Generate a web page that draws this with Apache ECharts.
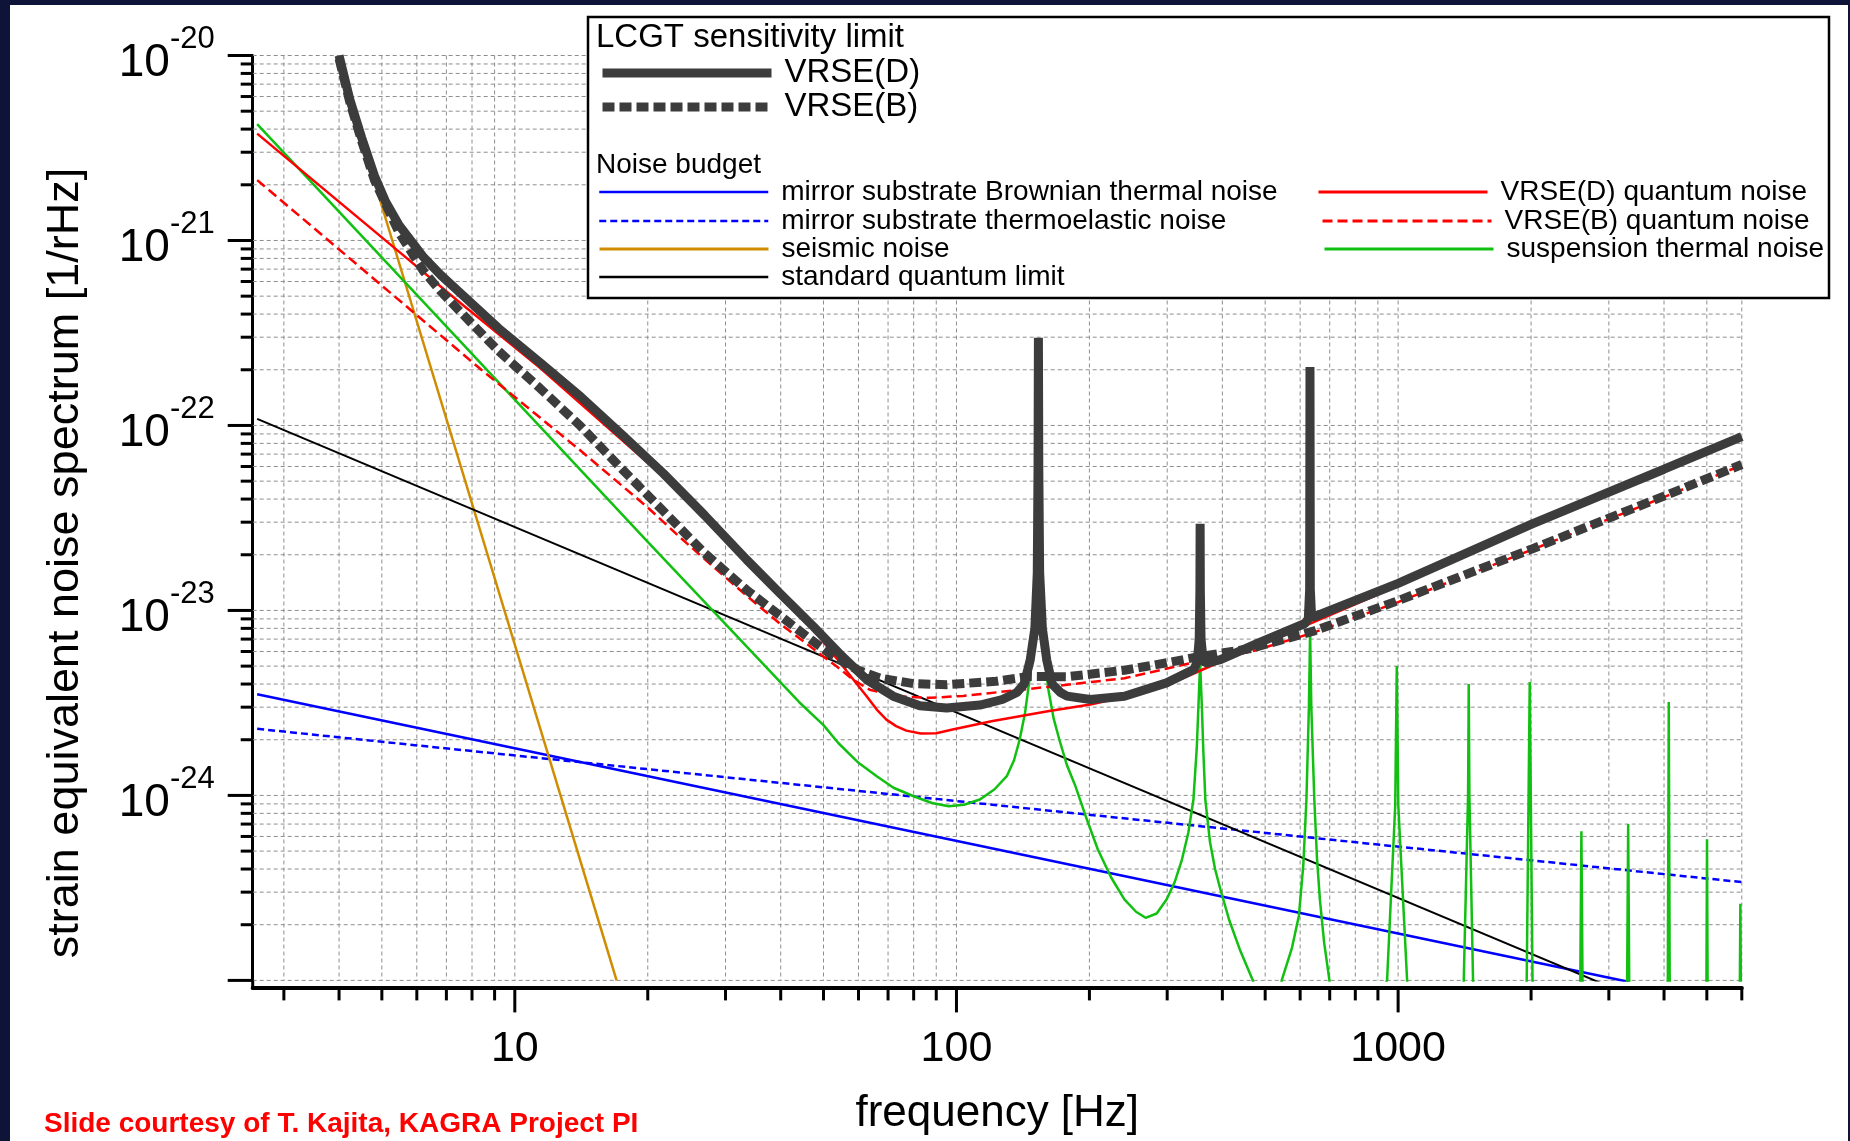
<!DOCTYPE html>
<html>
<head>
<meta charset="utf-8">
<title>LCGT sensitivity limit</title>
<script src="https://cdn.jsdelivr.net/npm/echarts@6.0.0/dist/echarts.min.js"></script>
<style>
  html, body { margin: 0; padding: 0; background: #0d1438; }
  #frame { position: absolute; left: 10px; top: 5px; width: 1838px; height: 1136px; background: #fff; }
  #chart { position: absolute; left: 0; top: 0; width: 1850px; height: 1141px; }
</style>
</head>
<body>
<div id="frame"></div>
<div id="chart"></div>
<script>
const FONT = '"Liberation Sans", Arial, Helvetica, sans-serif'

// axis ranges
const X_MIN = 2.55
const X_MAX = 6000
const Y_MIN = 1e-25
const Y_MAX = 1e-20

// tick / grid positions
const xMajorTicks = [10, 100, 1000]
const xMinorTicks = [3, 4, 5, 6, 7, 8, 9, 20, 30, 40, 50, 60, 70, 80, 90,
  200, 300, 400, 500, 600, 700, 800, 900, 2000, 3000, 4000, 5000, 6000]
const yDecades = [-25, -24, -23, -22, -21, -20]
const yMantissas = [2, 3, 4, 5, 6, 7, 8, 9]

// LCGT sensitivity limit [frequency Hz, strain 1/rHz]
const vrseD = [
  [4.0, 1.0e-20], [4.23, 5.8e-21], [4.5, 3.6e-21], [4.81, 2.24e-21], [5.1, 1.62e-21],
  [5.47, 1.21e-21], [6.22, 8.1e-22], [6.8, 6.5e-22], [7.4, 5.4e-22], [9.18, 3.36e-22],
  [11.4, 2.19e-22], [14.1, 1.43e-22], [17.5, 8.9e-23], [21.7, 5.5e-23], [26.9, 3.27e-23],
  [33.5, 1.88e-23], [39.8, 1.24e-23], [47.4, 8.2e-24], [54.5, 5.8e-24], [62.6, 4.23e-24],
  [71.9, 3.44e-24], [82.6, 3.05e-24], [95, 2.97e-24], [113, 3.08e-24], [127, 3.3e-24],
  [137, 3.6e-24], [142.3, 4.0e-24], [146.9, 5.4e-24], [150.5, 8.0e-24], [152.4, 1.6e-23],
  [153.0, 6.0e-23], [153.3, 2.98e-22], [153.6, 6.0e-23], [154.3, 1.6e-23], [156.5, 8.0e-24],
  [160.1, 5.4e-24], [164.7, 4.0e-24], [172, 3.6e-24], [178, 3.44e-24], [201, 3.3e-24],
  [240, 3.44e-24], [299, 4.06e-24], [345, 4.8e-24], [351, 5.3e-24], [354.5, 7.0e-24],
  [355.8, 1.3e-23], [356.2, 2.94e-23], [356.6, 1.3e-23], [357.9, 7.0e-24], [362, 5.3e-24],
  [370, 5.2e-24], [396, 5.42e-24], [483, 6.67e-24], [615, 8.5e-24], [626, 9.0e-24],
  [630.5, 1.3e-23], [631.6, 2.07e-22], [632.7, 1.3e-23], [637, 9.2e-24], [650, 9.3e-24],
  [1000, 1.4e-23], [2000, 2.92e-23], [4000, 5.8e-23], [6000, 8.7e-23],
]
const vrseB = [
  [4.0, 9.6e-21], [4.23, 5.6e-21], [4.5, 3.45e-21], [4.81, 2.12e-21], [5.47, 1.1e-21],
  [6.22, 6.8e-22], [6.8, 5.3e-22], [7.4, 4.3e-22], [9.18, 2.53e-22], [11.4, 1.59e-22],
  [14.1, 9.9e-23], [17.5, 5.8e-23], [21.7, 3.44e-23], [26.9, 2.04e-23], [33.5, 1.29e-23],
  [39.8, 9.4e-24], [47.4, 6.8e-24], [52.6, 5.65e-24], [60, 4.75e-24], [67, 4.31e-24],
  [80, 4.02e-24], [95, 3.97e-24], [123, 4.14e-24], [146, 4.4e-24], [178, 4.38e-24],
  [240, 4.75e-24], [300, 5.22e-24], [358, 5.65e-24], [460, 6.2e-24], [640, 7.7e-24],
  [1000, 1.13e-23], [2000, 2.14e-23], [4000, 4.15e-23], [6000, 6.15e-23],
]

// noise budget
const brownian = [[2.61, 3.52e-24], [3340, 9.8e-26]]
const thermoelastic = [[2.61, 2.29e-24], [6000, 3.4e-25]]
const seismic = [[4.9, 1.8e-21], [17, 1.0e-25]]
const sql = [[2.61, 1.086e-22], [2900, 9.6e-26]]
const quantumD = [
  [2.61, 3.78e-21], [5.5, 8.6e-22], [7.4, 4.75e-22], [11.4, 2.05e-22], [21.7, 5.3e-23],
  [33.5, 1.8e-23], [39.8, 1.19e-23], [47.4, 7.9e-24], [53.9, 5.4e-24], [56.4, 4.7e-24],
  [59.5, 4.0e-24], [62.6, 3.44e-24], [66, 2.91e-24], [69.4, 2.57e-24], [73, 2.37e-24],
  [77, 2.24e-24], [83, 2.16e-24], [90, 2.17e-24], [98, 2.27e-24], [120, 2.52e-24],
  [161, 2.85e-24], [201, 3.1e-24], [236, 3.37e-24], [300, 3.95e-24], [358, 4.75e-24],
  [483, 6.5e-24], [640, 8.6e-24], [1000, 1.36e-23], [2000, 2.88e-23], [4000, 5.75e-23],
  [6000, 8.6e-23],
]
const quantumB = [
  [2.61, 2.12e-21], [8.4, 2.0e-22], [14.1, 7.3e-23], [20, 3.6e-23], [23.6, 2.5e-23],
  [28.1, 1.73e-23], [33.5, 1.2e-23], [39.8, 8.5e-24], [47.4, 6.2e-24], [53.5, 4.99e-24],
  [58.3, 4.23e-24], [63.6, 3.73e-24], [73, 3.44e-24], [87, 3.37e-24], [103.5, 3.45e-24],
  [125, 3.62e-24], [161, 3.86e-24], [240, 4.3e-24], [300, 4.85e-24], [358, 5.35e-24],
  [460, 5.95e-24], [640, 7.55e-24], [1000, 1.11e-23], [2000, 2.12e-23], [4000, 4.1e-23],
  [6000, 6.1e-23],
]
// suspension thermal noise: pendulum slope, low resonances and violin modes
const suspension = [
  [2.61, 4.26e-21], [20, 2.35e-23], [44, 3.2e-24], [50, 2.4e-24], [54, 1.92e-24],
  [60, 1.5e-24], [66, 1.27e-24], [72, 1.1e-24], [80, 9.9e-25], [88, 9.1e-25],
  [96, 8.75e-25], [104, 8.9e-25], [113, 9.5e-25], [122, 1.08e-24], [130, 1.27e-24],
  [135, 1.55e-24], [139, 2.0e-24], [143, 2.8e-24], [146, 4.06e-24], [150.5, 7.0e-24],
  [153.3, 1.0e-22], [156.5, 7.0e-24], [161.5, 3.73e-24], [166, 2.6e-24], [171, 2.0e-24],
  [178, 1.45e-24], [186, 1.12e-24], [197, 7.5e-25], [209, 5.1e-25], [224, 3.6e-25],
  [240, 2.74e-25], [255, 2.35e-25], [268, 2.18e-25], [284, 2.3e-25], [299, 2.74e-25],
  [312, 3.4e-25], [324, 4.5e-25], [335, 6.3e-25], [344, 9.5e-25], [350, 1.8e-24],
  [353, 3.0e-24], [356.2, 5.2e-24], [359.5, 3.0e-24], [362, 1.8e-24], [366, 9.5e-25],
  [375, 5.6e-25], [385, 4.0e-25], [396, 3.1e-25], [415, 2.1e-25], [438, 1.47e-25],
  [469, 1.0e-25], [490, 3e-26], [520, 3e-26], [545, 1.0e-25], [575, 1.5e-25],
  [596, 2.23e-25], [610, 4.2e-25], [620, 9.5e-25], [628, 3.0e-24], [632, 7.7e-24],
  [636, 3.0e-24], [646, 9.5e-25], [655, 4.6e-25], [665, 2.74e-25], [680, 1.6e-25],
  [699, 1.0e-25], [730, 3e-26], [944, 1.0e-25], [985, 8.8e-25], [993, 5.0e-24],
  [1001, 8.8e-25], [1048, 1.0e-25], [1200, 1e-27], [1408, 1.0e-25], [1440, 1.0e-24],
  [1445, 4.0e-24], [1450, 1.0e-24], [1478, 1.0e-25], [1700, 1e-27], [1955, 1.0e-25],
  [1986, 4.1e-24], [2015, 1.0e-25], [2300, 1e-27], [2585, 1.0e-25], [2600, 6.4e-25],
  [2615, 1.0e-25], [2950, 1e-27], [3300, 1.0e-25], [3318, 7.0e-25], [3336, 1.0e-25],
  [3700, 1e-27], [4080, 1.0e-25], [4100, 3.2e-24], [4120, 1.0e-25], [4500, 1e-27],
  [4990, 1.0e-25], [5005, 5.8e-25], [5020, 1.0e-25], [5400, 1e-27], [5940, 1.0e-25],
  [5955, 2.6e-25], [5970, 1.0e-25], [6100, 1e-27],
]

const AXIS_OFFSET = 7
const GRID_STYLE = { stroke: '#8e8e8e', lineWidth: 1, lineDash: [4, 3] }
const TICK_STYLE = { stroke: '#000', lineWidth: 3 }

let myChart = null

function renderXGrid(params, api) {
  const v = api.value(0)
  const top = api.coord([v, Y_MAX])
  const bot = api.coord([v, Y_MIN])
  const len = api.value(2) ? 25 : 13
  const y0 = bot[1] + AXIS_OFFSET
  return {
    type: 'group',
    children: [
      { type: 'line', shape: { x1: top[0], y1: top[1], x2: bot[0], y2: bot[1] }, style: GRID_STYLE },
      { type: 'line', shape: { x1: bot[0], y1: y0, x2: bot[0], y2: y0 + len }, style: TICK_STYLE },
    ],
  }
}

function renderYGrid(params, api) {
  const v = api.value(1)
  const left = api.coord([X_MIN, v])
  const right = api.coord([X_MAX, v])
  const len = api.value(2) ? 25 : 12
  const children = [
    { type: 'line', shape: { x1: left[0], y1: left[1], x2: right[0], y2: right[1] }, style: GRID_STYLE },
    { type: 'line', shape: { x1: left[0] - len, y1: left[1], x2: left[0], y2: left[1] }, style: TICK_STYLE },
  ]
  // carry the y axis line down to the offset x axis
  const cs = params.coordSys
  if (Math.abs(left[1] - (cs.y + cs.height)) < 1) {
    children.push({
      type: 'line',
      shape: { x1: left[0], y1: left[1], x2: left[0], y2: left[1] + AXIS_OFFSET + 2 },
      style: TICK_STYLE,
    })
  }
  return { type: 'group', children: children }
}

function curve(name, data, color, width, type, z) {
  return {
    name: name,
    type: 'line',
    data: data,
    z: z,
    symbol: 'none',
    showSymbol: false,
    silent: true,
    clip: true,
    animation: false,
    emphasis: { disabled: true },
    itemStyle: { color: color },
    lineStyle: { color: color, width: width, type: type, cap: 'butt', join: 'bevel' },
  }
}

function legendItem(name, left, cy, fontSize, lineWidth) {
  return {
    data: [name],
    left: left,
    top: cy - fontSize / 2,
    padding: 0,
    itemWidth: 169,
    itemHeight: fontSize,
    selectedMode: false,
    z: 20,
    itemStyle: { opacity: 0 },
    lineStyle: { width: lineWidth },
    textStyle: {
      fontFamily: FONT,
      fontSize: fontSize,
      lineHeight: fontSize,
      color: '#000',
      padding: [0, 0, 0, 8],
    },
  }
}

function initChart() {
  myChart = echarts.init(document.getElementById('chart'), null, { width: 1850, height: 1141 })

  const xGridData = xMinorTicks.map((v) => [v, Y_MIN, 0])
    .concat(xMajorTicks.map((v) => [v, Y_MIN, 1]))
  const yGridData = []
  yDecades.forEach((d) => {
    yGridData.push([X_MIN, Math.pow(10, d), 1])
    if (d < -20) {
      yMantissas.forEach((m) => yGridData.push([X_MIN, m * Math.pow(10, d), 0]))
    }
  })

  let option = {
    animation: false,
    backgroundColor: 'transparent',
    textStyle: { fontFamily: FONT },
    grid: {
      left: 252.7,
      right: 108.2,
      top: 55.5,
      bottom: 160.6,
      containLabel: false,
      outerBoundsMode: 'none',
    },
    xAxis: {
      type: 'log',
      logBase: 10,
      min: X_MIN,
      max: X_MAX,
      offset: AXIS_OFFSET,
      name: 'frequency [Hz]',
      nameLocation: 'middle',
      nameGap: 104,
      nameTextStyle: { fontFamily: FONT, fontSize: 44, color: '#000' },
      axisLine: { show: true, onZero: false, lineStyle: { color: '#000', width: 4 } },
      axisTick: { show: false },
      splitLine: { show: false },
      minorTick: { show: false },
      minorSplitLine: { show: false },
      axisLabel: {
        margin: 40,
        fontFamily: FONT,
        fontSize: 43,
        color: '#000',
        showMinLabel: false,
        showMaxLabel: false,
        formatter: (v) => String(Math.round(v)),
      },
    },
    yAxis: {
      type: 'log',
      logBase: 10,
      min: Y_MIN,
      max: Y_MAX,
      axisLine: { show: true, onZero: false, lineStyle: { color: '#000', width: 3 } },
      axisTick: { show: false },
      splitLine: { show: false },
      minorTick: { show: false },
      minorSplitLine: { show: false },
      axisLabel: {
        margin: 38,
        color: '#000',
        formatter: (v) => '{b|10}{s|' + Math.round(Math.log10(v)) + '}',
        rich: {
          b: { fontFamily: FONT, fontSize: 46, lineHeight: 62, color: '#000', verticalAlign: 'bottom' },
          s: { fontFamily: FONT, fontSize: 31, height: 30, lineHeight: 30, color: '#000', verticalAlign: 'top' },
        },
      },
    },
    legend: [
      legendItem('VRSE(D)', 598, 73, 33, 9),
      legendItem('VRSE(B)', 598, 107, 33, 9),
      legendItem('mirror substrate Brownian thermal noise', 598, 192, 28, 2.5),
      legendItem('mirror substrate thermoelastic noise', 598, 221, 28, 2.5),
      legendItem('seismic noise', 598, 249, 28, 3),
      legendItem('standard quantum limit', 598, 277, 28, 2.5),
      legendItem('VRSE(D) quantum noise', 1317, 192, 28, 3),
      legendItem('VRSE(B) quantum noise', 1321, 221, 28, 3),
      legendItem('suspension thermal noise', 1323, 249, 28, 3),
    ],
    graphic: [
      {
        type: 'rect',
        z: 10,
        shape: { x: 588, y: 17, width: 1241, height: 281 },
        style: { fill: '#fff', stroke: '#000', lineWidth: 2.5 },
      },
      {
        type: 'text',
        z: 21,
        x: 596,
        y: 38,
        style: { text: 'LCGT sensitivity limit', font: '33px ' + FONT, fill: '#000', verticalAlign: 'middle' },
      },
      {
        type: 'text',
        z: 21,
        x: 596,
        y: 165,
        style: { text: 'Noise budget', font: '28px ' + FONT, fill: '#000', verticalAlign: 'middle' },
      },
      {
        type: 'text',
        x: 66,
        y: 563,
        rotation: Math.PI / 2,
        style: {
          text: 'strain equivalent noise spectrum [1/rHz]',
          font: '45px ' + FONT,
          fill: '#000',
          align: 'center',
          verticalAlign: 'middle',
        },
      },
      {
        type: 'text',
        x: 44,
        y: 1124,
        style: {
          text: 'Slide courtesy of T. Kajita, KAGRA Project PI',
          font: 'bold 28px ' + FONT,
          fill: '#ff0000',
          verticalAlign: 'middle',
        },
      },
    ],
    series: [
      {
        name: 'xgrid',
        type: 'custom',
        z: 1,
        silent: true,
        clip: false,
        renderItem: renderXGrid,
        encode: { x: 0, y: 1 },
        data: xGridData,
      },
      {
        name: 'ygrid',
        type: 'custom',
        z: 1,
        silent: true,
        clip: false,
        renderItem: renderYGrid,
        encode: { x: 0, y: 1 },
        data: yGridData,
      },
      curve('mirror substrate Brownian thermal noise', brownian, '#0000ff', 2.5, 'solid', 2),
      curve('mirror substrate thermoelastic noise', thermoelastic, '#0000ff', 2.5, [7, 4], 2),
      curve('seismic noise', seismic, '#d08c00', 2.5, 'solid', 2),
      curve('standard quantum limit', sql, '#000000', 2, 'solid', 2),
      curve('suspension thermal noise', suspension, '#11c011', 2.5, 'solid', 3),
      curve('VRSE(D) quantum noise', quantumD, '#ff0000', 2.5, 'solid', 3),
      curve('VRSE(B) quantum noise', quantumB, '#ff0000', 2.5, [10, 5], 3),
      curve('VRSE(B)', vrseB, '#3c3c3c', 9, [12, 5], 4),
      curve('VRSE(D)', vrseD, '#3c3c3c', 9, 'solid', 5),
    ],
  }
  myChart.setOption(option, false)
}

initChart()
</script>
</body>
</html>
